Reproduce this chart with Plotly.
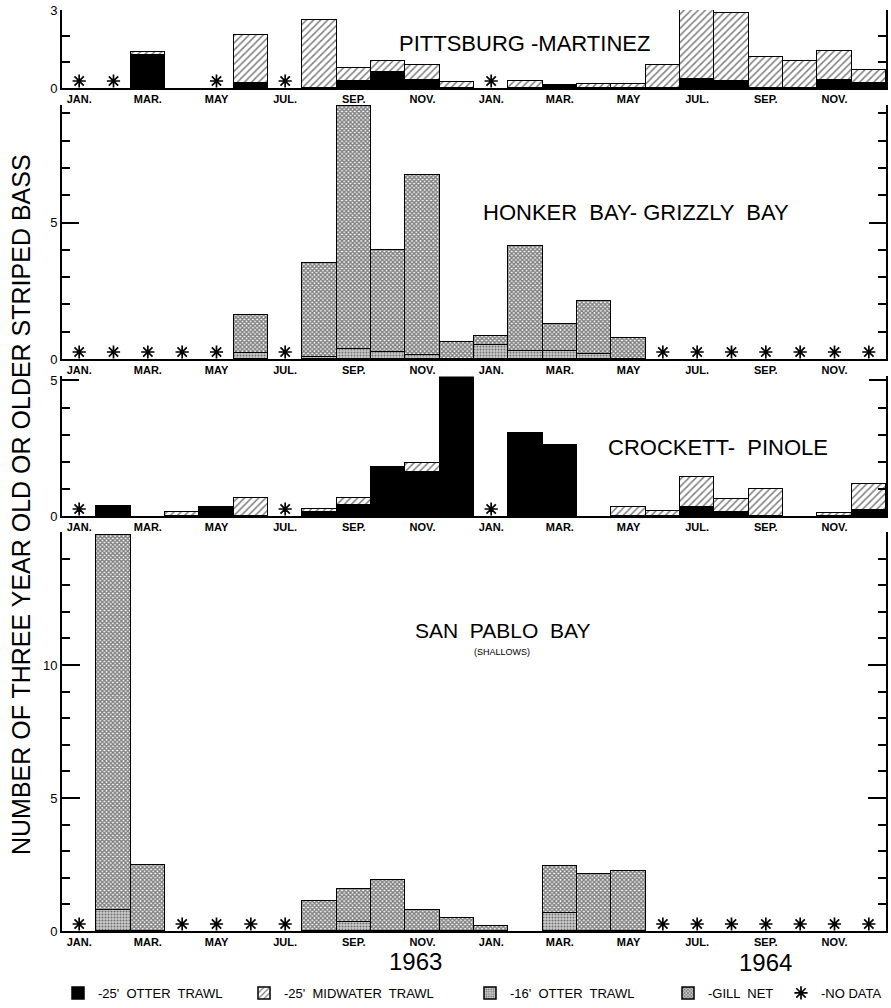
import plotly.graph_objects as go

N = None
months = list(range(24))
label_months = list(range(0, 24, 2))
month_labels = ["JAN.", "MAR.", "MAY", "JUL.", "SEP.", "NOV."] * 2

# ---- Pittsburg - Martinez ----
pm_otter25 = [N, N, 1.27, N, N, 0.2, N, N, 0.27, 0.63, 0.3, N,
              N, N, 0.1, N, N, N, 0.36, 0.26, N, N, 0.31, 0.2]
pm_otter16 = [N] * 24
pm_midwater = [N, N, 0.1, N, N, 1.85, N, 2.6, 0.5, 0.41, 0.58, 0.25,
               N, 0.26, N, 0.16, 0.16, 0.88, 2.64, 2.62, 1.18, 1.02, 1.13, 0.48]
pm_gill = [N] * 24
pm_nodata = [0, 1, 4, 6, 12]

# ---- Honker Bay - Grizzly Bay ----
hg_otter25 = [N] * 24
hg_otter16 = [N, N, N, N, N, 0.2, N, 0.08, 0.37, 0.26, 0.15, N,
              0.5, 0.3, 0.3, 0.18, N, N, N, N, N, N, N, N]
hg_midwater = [N] * 24
hg_gill = [N, N, N, N, N, 1.4, N, 3.45, 8.91, 3.74, 6.58, 0.61,
           0.34, 3.85, 0.98, 1.93, 0.76, N, N, N, N, N, N, N]
hg_nodata = [0, 1, 2, 3, 4, 6, 17, 18, 19, 20, 21, 22, 23]

# ---- Crockett - Pinole ----
cp_otter25 = [N, 0.37, N, N, 0.33, N, N, 0.12, 0.4, 1.81, 1.62, 5.1,
              N, 3.06, 2.6, N, N, N, 0.31, 0.13, N, N, N, 0.21]
cp_otter16 = [N] * 24
cp_midwater = [N, N, N, 0.15, N, 0.66, N, 0.12, 0.26, N, 0.31, N,
               N, N, N, N, 0.3, 0.18, 1.13, 0.47, 0.98, N, 0.09, 0.95]
cp_gill = [N] * 24
cp_nodata = [0, 6, 12]

# ---- San Pablo Bay (shallows) ----
sp_otter25 = [N] * 24
sp_otter16 = [N, 0.8, N, N, N, N, N, N, 0.33, N, N, N,
              N, N, 0.69, N, N, N, N, N, N, N, N, N]
sp_midwater = [N] * 24
sp_gill = [N, 14.1, 2.48, N, N, N, N, 1.14, 1.25, 1.93, 0.79, 0.5,
           0.19, N, 1.75, 2.13, 2.27, N, N, N, N, N, N, N]
sp_nodata = [0, 3, 4, 5, 6, 17, 18, 19, 20, 21, 22, 23]

gear_names = ["-25'  OTTER  TRAWL", "-16'  OTTER  TRAWL", "-25'  MIDWATER  TRAWL", "-GILL  NET"]
gear_legend = ["legend", "legend3", "legend2", "legend4"]
gear_patterns = [
    dict(shape="", fgcolor="black", bgcolor="black"),
    dict(shape=".", fgcolor="#111", bgcolor="#cfcfcf", size=3, solidity=0.4),
    dict(shape="/", fgcolor="black", bgcolor="white", size=5, solidity=0.3),
    dict(shape="x", fgcolor="black", bgcolor="white", size=3, solidity=0.7),
]
gear_colors = ["black", "#cfcfcf", "white", "white"]

panels = [
    dict(data=[pm_otter25, pm_otter16, pm_midwater, pm_gill], nodata=pm_nodata,
         rng=[0, 3], ticks=[0, 3], base_px=88, ppu=26.0, majorlen=8),
    dict(data=[hg_otter25, hg_otter16, hg_midwater, hg_gill], nodata=hg_nodata,
         rng=[0, 9.3], ticks=[0, 5], base_px=359, ppu=27.3, majorlen=17),
    dict(data=[cp_otter25, cp_otter16, cp_midwater, cp_gill], nodata=cp_nodata,
         rng=[0, 5.15], ticks=[0, 5], base_px=516, ppu=27.1, majorlen=17),
    dict(data=[sp_otter25, sp_otter16, sp_midwater, sp_gill], nodata=sp_nodata,
         rng=[0, 15], ticks=[0, 5, 10], base_px=931, ppu=26.6, majorlen=18),
]

W, H = 891, 1008
L, R = 62, 5
PW = W - L - R

fig = go.Figure()
shown = set()
layout_axes = {}
for i, p in enumerate(panels):
    k = "" if i == 0 else str(i + 1)
    xa, ya = "x" + k, "y" + k
    for g in range(4):
        vals = p["data"][g]
        if all(v is None for v in vals):
            continue
        show = g not in shown
        shown.add(g)
        fig.add_trace(go.Bar(
            x=months, y=vals, xaxis=xa, yaxis=ya, name=gear_names[g],
            legendgroup=gear_names[g], showlegend=show, legend=gear_legend[g],
            marker=dict(color=gear_colors[g], pattern=gear_patterns[g],
                        line=dict(color="black", width=1.5)),
            width=1.0,
        ))
    star_y = 7.0 / p["ppu"]
    fig.add_trace(go.Scatter(
        x=p["nodata"], y=[star_y] * len(p["nodata"]), xaxis=xa, yaxis=ya,
        mode="markers", name="-NO DATA", legendgroup="nodata",
        showlegend=(i == 0), legend="legend5",
        marker=dict(symbol="asterisk-open", size=11, color="black",
                    line=dict(color="black", width=1.7)),
    ))
    base = p["base_px"]
    top_px = base - p["rng"][1] * p["ppu"]
    dom = [1 - base / H, 1 - top_px / H]
    layout_axes["yaxis" + k] = dict(
        domain=dom, range=p["rng"], tickvals=p["ticks"], ticks="inside",
        ticklen=p["majorlen"], tickwidth=1.5, tickcolor="black",
        showline=True, linewidth=2, linecolor="black", mirror="ticks",
        showgrid=False, zeroline=False, anchor=xa, ticklabeloverflow="allow",
        minor=dict(dtick=1, tick0=0, ticks="inside", ticklen=8, tickwidth=1.5,
                   tickcolor="black", showgrid=False),
        tickfont=dict(size=13, color="black", family="Liberation Sans"),
    )
    layout_axes["xaxis" + k] = dict(
        domain=[0, 1], range=[-0.5, 23.5], tickvals=label_months, ticktext=month_labels,
        ticks="", showline=True, linewidth=2, linecolor="black", showgrid=False,
        zeroline=False, anchor=ya,
        tickfont=dict(size=11, color="black", family="Liberation Sans", weight="bold"),
    )

fig.update_layout(**layout_axes)


def px(xp):
    return (xp - L) / PW


def py(yp):
    return 1 - yp / H


ann = [
    dict(text="PITTSBURG -MARTINEZ", x=px(524), y=py(44), size=22),
    dict(text="HONKER  BAY- GRIZZLY  BAY", x=px(636), y=py(212), size=22),
    dict(text="CROCKETT-  PINOLE", x=px(718), y=py(447), size=22),
    dict(text="SAN  PABLO  BAY", x=px(502), y=py(630), size=21),
    dict(text="(SHALLOWS)", x=px(502), y=py(652), size=9),
    dict(text="1963", x=px(415), y=py(961), size=24),
    dict(text="1964", x=px(765), y=py(962), size=24),
]
annotations = [dict(text=a["text"], x=a["x"], y=a["y"], xref="paper", yref="paper",
                    showarrow=False, xanchor="center", yanchor="middle",
                    font=dict(size=a["size"], color="black", family="Liberation Sans"))
               for a in ann]
annotations.append(dict(
    text="NUMBER OF THREE YEAR OLD OR OLDER STRIPED BASS", textangle=-90,
    x=px(21), y=py(505), xref="paper", yref="paper", showarrow=False,
    xanchor="center", yanchor="middle",
    font=dict(size=25, color="black", family="Liberation Sans")))

legend_x = {"legend": 58, "legend2": 244, "legend3": 470, "legend4": 668, "legend5": 781}
legends = {}
for name, xp in legend_x.items():
    legends[name] = dict(orientation="h", xref="container", x=xp / W, y=py(993),
                         xanchor="left", yanchor="middle",
                         font=dict(size=13, color="black", family="Liberation Sans"),
                         itemwidth=30, bgcolor="rgba(0,0,0,0)")

fig.update_layout(
    width=W, height=H, barmode="stack", bargap=0,
    margin=dict(l=L, r=R, t=0, b=0, autoexpand=False),
    paper_bgcolor="white", plot_bgcolor="white",
    annotations=annotations,
    showlegend=True,
    **legends,
)

fig.write_html("out.html", config={"displayModeBar": False},
               post_script="document.body.style.margin='0';document.body.style.padding='0';")
